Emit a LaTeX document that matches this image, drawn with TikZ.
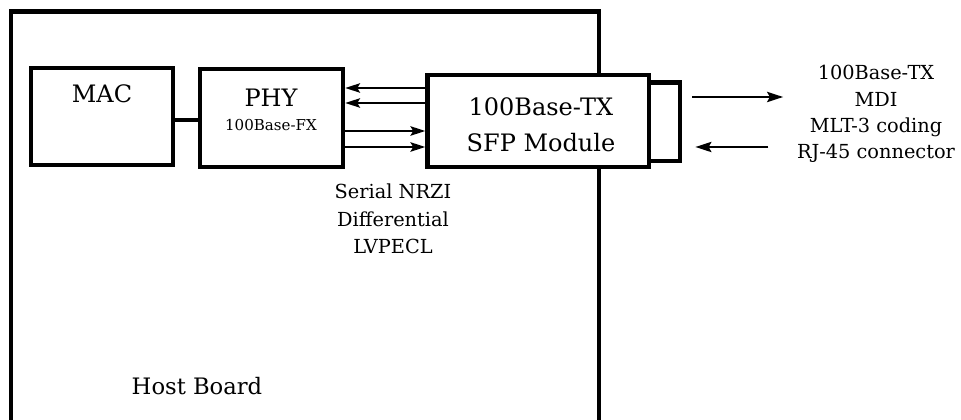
\documentclass[tikz,border=0pt]{standalone}
\usepackage{fontspec}
\setmainfont{DejaVu Serif}
\usetikzlibrary{arrows.meta,calc}
\newlength\px
\setlength\px{0.75pt}
\begin{document}
\begin{tikzpicture}[x=0.75pt,y=-0.75pt,
  board/.style={line width=3.5pt},
  box/.style={draw, fill=white, line width=3.4pt, inner sep=0pt},
  link/.style={line width=3.6pt},
  sig/.style={line width=1.9pt, -{Stealth[length=11pt,width=7pt,inset=2pt]}},
  ext/.style={line width=2.2pt, -{Stealth[length=12pt,width=7.5pt,inset=2pt]}},
  lbl/.style={inner sep=0pt, text=black}]
\useasboundingbox[fill=white] (0,0) rectangle (961,420);
% host board outline
\draw[board] (11,420) -- (11,11.5) -- (599,11.5) -- (599,420);
% boxes
\node[box, minimum width=142\px, minimum height=97\px] (mac) at (102,116.5) {};
\node[box, minimum width=143\px, minimum height=98\px] (phy) at (271.5,118) {};
\node[box, minimum width=31\px, minimum height=78.5\px] (rj) at (664.5,121.75) {};
\node[box, minimum width=221.5\px, minimum height=92\px] (sfp) at (538.25,121) {};
% box texts
\node[lbl, anchor=base, font=\fontsize{18}{22}\selectfont] (mact) at (102,103) {MAC};
\node[lbl, anchor=base, font=\fontsize{18}{22}\selectfont] (phyt) at (271,107) {PHY};
\node[lbl, anchor=base, font=\fontsize{11.3}{13}\selectfont] (fxt) at (271,131) {100Base-FX};
\node[lbl, anchor=north, align=center, font=\fontsize{18}{27}\selectfont] (sfpt) at (541,97.5) {100Base-TX\\SFP Module};
% MAC-PHY link
\draw[link] (mac.east |- 0,120) -- (phy.west |- 0,120);
% serial lines
\draw[sig] (sfp.west |- 0,88) -- (phy.east |- 0,88);
\draw[sig] (sfp.west |- 0,103) -- (phy.east |- 0,103);
\draw[sig] (phy.east |- 0,131) -- (sfp.west |- 0,131);
\draw[sig] (phy.east |- 0,147) -- (sfp.west |- 0,147);
% labels
\node[lbl, anchor=north, align=center, font=\fontsize{14.5}{20.8}\selectfont] (serial) at (393,183.5) {Serial NRZI\\Differential\\LVPECL};
\node[lbl, anchor=north, align=center, font=\fontsize{14.5}{19.8}\selectfont] (mdi) at (876,65) {100Base-TX\\MDI\\MLT-3 coding\\RJ-45 connector};
\node[lbl, anchor=base, font=\fontsize{17}{21}\selectfont] (host) at (197,395) {Host Board};
% external lines
\coordinate (txs) at ($(rj.east |- 0,97)+(10,0)$);
\coordinate (txe) at ($(rj.east |- 0,97)+(101,0)$);
\coordinate (rxs) at ($(rj.east |- 0,147)+(86,0)$);
\coordinate (rxe) at ($(rj.east |- 0,147)+(13,0)$);
\draw[ext] (txs) -- (txe);
\draw[ext] (rxs) -- (rxe);
\end{tikzpicture}
\end{document}
